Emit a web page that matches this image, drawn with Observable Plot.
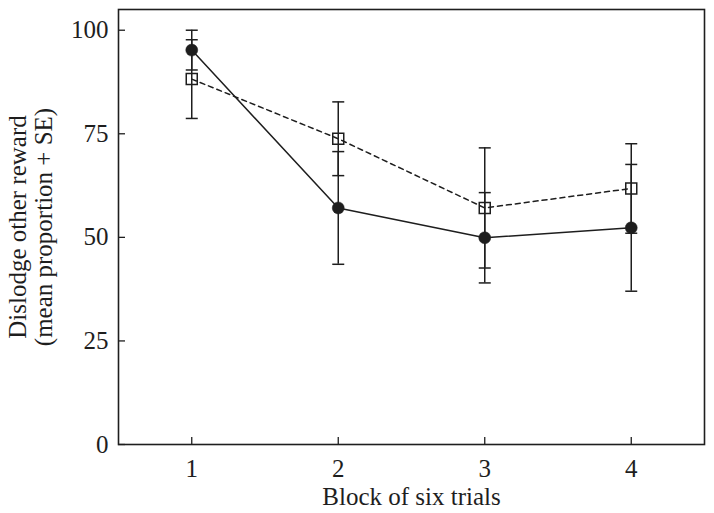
<!DOCTYPE html>
<html><head><meta charset="utf-8">
<script src="https://cdn.jsdelivr.net/npm/d3@7"></script>
<script src="https://cdn.jsdelivr.net/npm/@observablehq/plot@0.6"></script>
<style>body{margin:0;background:#fff}</style>
</head><body><div id="chart"></div>
<script>
const blocks = [1, 2, 3, 4];
const filledMean = [95.2, 57.1, 49.9, 52.3];
const filledSE = [4.8, 13.6, 10.9, 15.3];
const openMean = [88.2, 73.8, 57.1, 61.8];
const openSE = [9.5, 8.9, 14.5, 10.8];
const xTicks = [1, 2, 3, 4];
const yTicks = [0, 25, 50, 75, 100];
const xLabel = "Block of six trials";
const yLabel = "Dislodge other reward\n(mean proportion + SE)";

const mk = (means, ses) => blocks.map((b, i) => ({block: b, mean: means[i], lo: means[i] - ses[i], hi: means[i] + ses[i]}));
const filled = mk(filledMean, filledSE);
const open = mk(openMean, openSE);
const caps = [...filled, ...open].flatMap(d => [{block: d.block, v: d.lo}, {block: d.block, v: d.hi}]);

const ink = "#1e1e1e";
const capSymbol = {draw(ctx) { ctx.moveTo(-6, 0); ctx.lineTo(6, 0); }};
const squareSymbol = {draw(ctx) { ctx.moveTo(-5.5, -5.5); ctx.lineTo(5.5, -5.5); ctx.lineTo(5.5, 5.5); ctx.lineTo(-5.5, 5.5); ctx.closePath(); }};

const W = 714, H = 513, mL = 118, mR = 10, mT = 9, mB = 69;
const chart = Plot.plot({
  width: W, height: H,
  marginLeft: mL, marginRight: mR, marginTop: mT, marginBottom: mB,
  style: {fontFamily: "'Liberation Serif', 'DejaVu Serif', serif", fontSize: "25px", color: ink, background: "#fff"},
  x: {domain: [0.5, 4.5], ticks: xTicks, tickSize: 0, tickPadding: 15, label: null, tickFormat: d => String(d)},
  y: {domain: [0, 105], ticks: yTicks, tickSize: 0, tickPadding: 10, label: null, tickFormat: d => String(d)},
  marks: [
    Plot.tickX(xTicks, {x: d => d, insetTop: (H - mT - mB) - 7, stroke: ink, strokeWidth: 1.3}),
    Plot.tickY(yTicks, {y: d => d, insetRight: (W - mL - mR) - 7, stroke: ink, strokeWidth: 1.3}),
    Plot.frame({stroke: ink, strokeWidth: 1.6}),
    Plot.line(open, {x: "block", y: "mean", stroke: ink, strokeWidth: 1.5, strokeDasharray: "5,4"}),
    Plot.line(filled, {x: "block", y: "mean", stroke: ink, strokeWidth: 1.5}),
    Plot.ruleX([...filled, ...open], {x: "block", y1: "lo", y2: "hi", stroke: ink, strokeWidth: 1.5}),
    Plot.dot(caps, {x: "block", y: "v", symbol: capSymbol, stroke: ink, strokeWidth: 1.5}),
    Plot.dot(open, {x: "block", y: "mean", symbol: squareSymbol, stroke: ink, strokeWidth: 1.5, fill: "none"}),
    Plot.dot(filled, {x: "block", y: "mean", r: 6, fill: ink, stroke: ink, strokeWidth: 0.5}),
    Plot.text([xLabel], {frameAnchor: "bottom", dy: 52, lineAnchor: "middle", textAnchor: "middle", text: d => d, fill: ink}),
    Plot.text([yLabel], {frameAnchor: "left", dx: -88, rotate: -90, textAnchor: "middle", lineAnchor: "middle", lineHeight: 1.04, text: d => d, fill: ink})
  ]
});
document.getElementById("chart").appendChild(chart);
</script>
</body></html>
